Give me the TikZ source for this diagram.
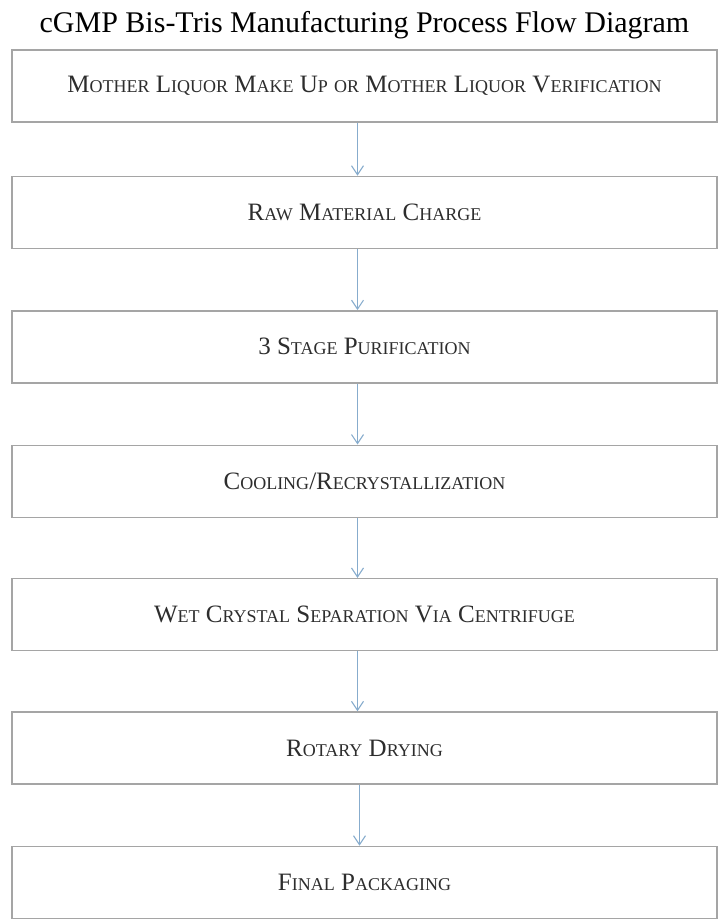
\documentclass[tikz,border=0pt]{standalone}
\usepackage{fontspec}
\setmainfont{Liberation Serif}
\usepackage{tikz}
\usetikzlibrary{arrows.meta, positioning}
\definecolor{boxgray}{RGB}{165,165,165}
\definecolor{flowblue}{RGB}{135,172,205}
\definecolor{inkgray}{RGB}{45,45,45}
\newcommand\sm[1]{{\fontsize{18}{20}\selectfont\MakeUppercase{#1}}}
\tikzset{
    stepbox/.style={rectangle, draw=boxgray, line width=1.4pt, fill=white, minimum width=705pt, minimum height=72pt, align=center, text=inkgray, font=\fontsize{25}{28}\selectfont},
    heading/.style={font=\fontsize{30}{32}\selectfont, text=black, inner sep=0pt},
    flow/.style={draw=flowblue, line width=1.1pt, -{Straight Barb[length=9pt, width=12pt, line width=1.1pt]}}
}

\begin{document}
\begin{tikzpicture}[x=1pt, y=-1pt, node distance=61pt]
        \useasboundingbox (0,0) rectangle (719,920);
        \node (title) [heading, anchor=base] at (364.5,33) {cGMP Bis-Tris Manufacturing Process Flow Diagram};

        % Process Steps
        \node (mlq) [stepbox] at (364.5,86) {M\sm{other} L\sm{iquor} M\sm{ake} U\sm{p} \sm{or} M\sm{other} L\sm{iquor} V\sm{erification}};
        \node (rmc) [stepbox, below=53pt of mlq] {R\sm{aw} M\sm{aterial} C\sm{harge}};
        \node (pur) [stepbox, below=61pt of rmc] {3 S\sm{tage} P\sm{urification}};
        \node (cool) [stepbox, below=61pt of pur] {C\sm{ooling}/R\sm{ecrystallization}};
        \node (sep) [stepbox, below=60pt of cool] {W\sm{et} C\sm{rystal} S\sm{eparation} V\sm{ia} C\sm{entrifuge}};
        \node (dry) [stepbox, below=60pt of sep] {R\sm{otary} D\sm{rying}};
        \node (pack) [stepbox, below=61pt of dry] {F\sm{inal} P\sm{ackaging}};

        \draw [flow] ([xshift=-7pt]mlq.south) -- ([xshift=-7pt]rmc.north);
        \draw [flow] ([xshift=-7pt]rmc.south) -- ([xshift=-7pt]pur.north);
        \draw [flow] ([xshift=-7pt]pur.south) -- ([xshift=-7pt]cool.north);
        \draw [flow] ([xshift=-7pt]cool.south) -- ([xshift=-7pt]sep.north);
        \draw [flow] ([xshift=-7pt]sep.south) -- ([xshift=-7pt]dry.north);
        \draw [flow] ([xshift=-5pt]dry.south) -- ([xshift=-5pt]pack.north);
    \end{tikzpicture}
\end{document}
